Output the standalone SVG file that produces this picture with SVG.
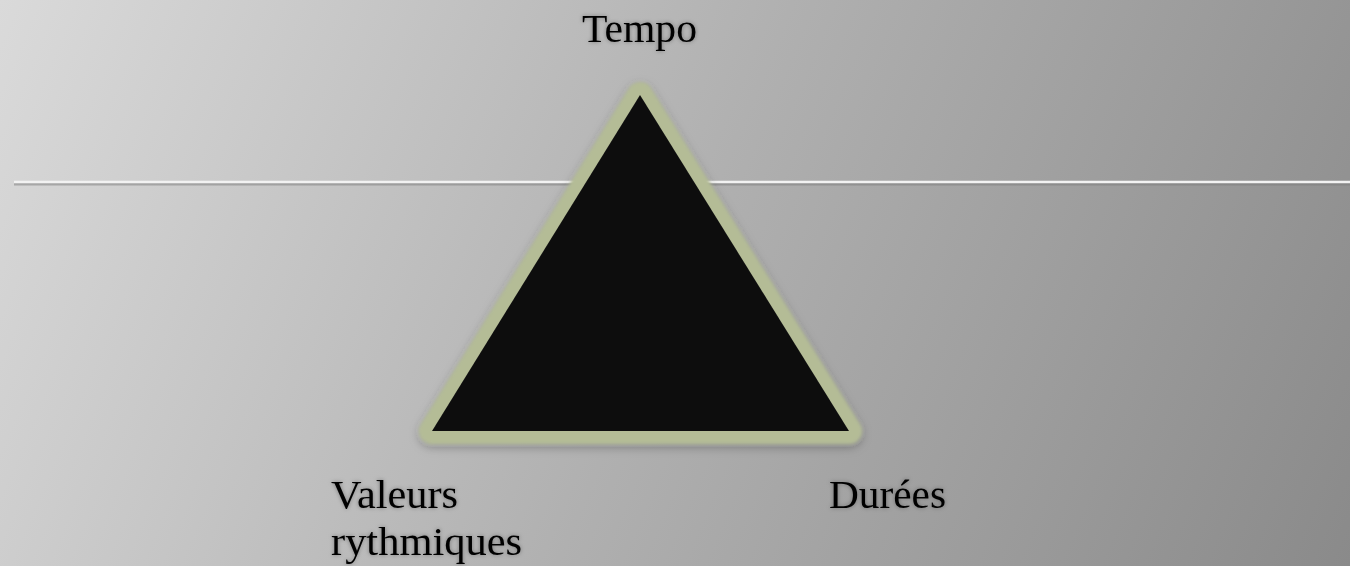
<svg xmlns="http://www.w3.org/2000/svg" width="1350" height="566" viewBox="0 0 1350 566">
<defs>
<linearGradient id="bg" x1="0" y1="0" x2="1350" y2="566" gradientUnits="userSpaceOnUse">
<stop offset="0" stop-color="#dadada"/>
<stop offset="0.5" stop-color="#b0b0b0"/>
<stop offset="1" stop-color="#8a8a8a"/>
</linearGradient>
<filter id="sh" x="-20%" y="-20%" width="140%" height="140%">
<feGaussianBlur in="SourceAlpha" stdDeviation="5"/>
<feOffset dy="3" result="b"/>
<feFlood flood-color="#000" flood-opacity="0.3"/>
<feComposite in2="b" operator="in" result="s"/>
<feMerge><feMergeNode in="s"/><feMergeNode in="SourceGraphic"/></feMerge>
</filter>
<filter id="soft" x="-10%" y="-10%" width="120%" height="120%">
<feGaussianBlur stdDeviation="1.5"/>
</filter>
<filter id="glow" x="-10%" y="-30%" width="120%" height="160%">
<feGaussianBlur in="SourceAlpha" stdDeviation="2" result="b"/>
<feFlood flood-color="#000" flood-opacity="0.35"/>
<feComposite in2="b" operator="in" result="g"/>
<feMerge><feMergeNode in="g"/><feMergeNode in="SourceGraphic"/></feMerge>
</filter>
<style>
.lbl{font-family:"Liberation Serif",serif;font-size:39px;fill:#000;}
</style>
</defs>
<rect width="1350" height="566" fill="url(#bg)"/>
<g id="connectors">
<line x1="14" y1="184" x2="1350" y2="184" stroke="#7a7a7a" stroke-opacity="0.5" stroke-width="3"/>
<line x1="14" y1="182" x2="1350" y2="182" stroke="#f2f2f2" stroke-width="2.5"/>
</g>
<g id="triangle" filter="url(#sh)">
<polygon points="640,95 432,431 849,431" fill="#b4bc96" stroke="#b4bc96" stroke-width="26" stroke-linejoin="round" filter="url(#soft)"/>
<polygon points="640,95 432,431 849,431" fill="#111111"/>
</g>
<g id="tempo" filter="url(#glow)"><text class="lbl" x="582" y="42" textLength="115" lengthAdjust="spacingAndGlyphs">Tempo</text></g>
<g id="valeurs" filter="url(#glow)"><text class="lbl" x="331" y="508" textLength="127" lengthAdjust="spacingAndGlyphs">Valeurs</text><text class="lbl" x="331" y="555" textLength="191" lengthAdjust="spacingAndGlyphs">rythmiques</text></g>
<g id="durees" filter="url(#glow)"><text class="lbl" x="829" y="508" textLength="117" lengthAdjust="spacingAndGlyphs">Durées</text></g>
</svg>
